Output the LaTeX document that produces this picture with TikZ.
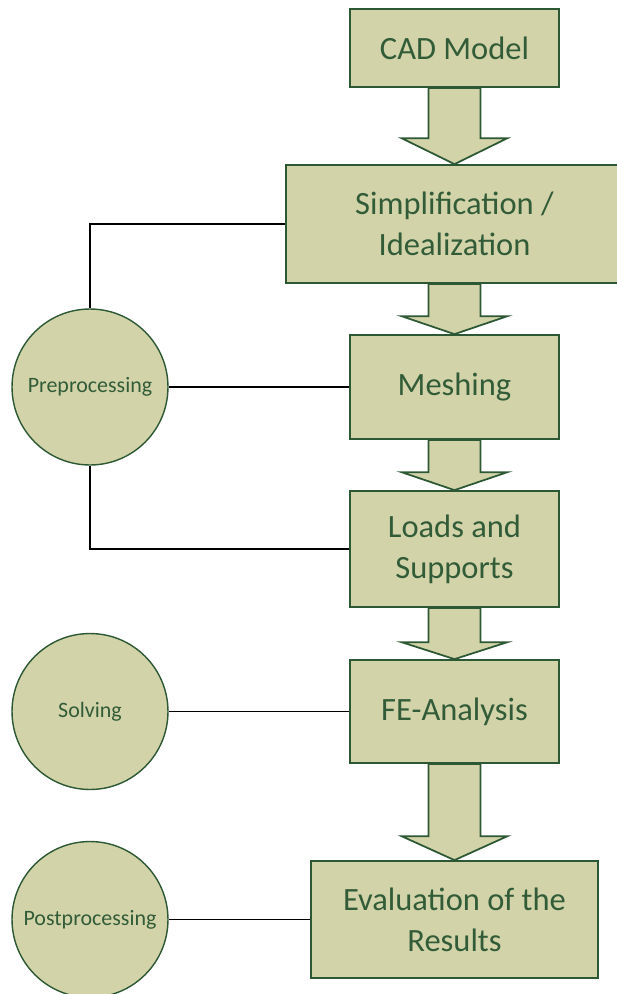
\documentclass[tikz,border=0pt]{standalone}
\usepackage{fontspec}
\setmainfont{Carlito}
\usetikzlibrary{calc}
\definecolor{khaki}{RGB}{210,211,169}
\definecolor{darkolive}{RGB}{44,88,52}
\definecolor{textgreen}{RGB}{50,92,56}

\begin{document}
\begin{tikzpicture}[x=0.02cm, y=-0.02cm, thick,
    main/.style = {draw=darkolive, fill=khaki, line width=1pt, text=textgreen, align=center, inner sep=0pt, font=\fontsize{18.5}{23.5}\selectfont},
    phase/.style = {draw=darkolive, fill=khaki, line width=0.8pt, circle, minimum size=3.12cm, inner sep=0pt, text=textgreen, font=\fontsize{12.5}{15}\selectfont},
    fat/.style = {draw=darkolive, fill=khaki, line width=1pt, line join=miter}]
      \useasboundingbox (0,0) rectangle (617,994);
      \clip (0,0) rectangle (617,994);

      \node[main, minimum width=4.18cm, minimum height=1.56cm] (1) at (454.5,48) {CAD Model};
      \node[main, minimum width=6.74cm, minimum height=2.36cm] (2) at (454.5,224) {Simplification /\\Idealization};
      \node[main, minimum width=4.18cm, minimum height=2.08cm] (3) at (454.5,387) {Meshing};
      \node[main, minimum width=4.18cm, minimum height=2.32cm] (4) at (454.5,549) {Loads and\\Supports};
      \node[main, minimum width=4.18cm, minimum height=2.06cm] (5) at (454.5,711.5) {FE-Analysis};
      \node[main, minimum width=5.74cm, minimum height=2.34cm] (6) at (454.5,919.5) {Evaluation of the\\Results};

      \node[phase] (7) at (90,387) {Preprocessing};
      \node[phase] (8) at (90,711.5) {Solving};
      \node[phase] (9) at (90,919.5) {Postprocessing};

      \draw[line width=0.9pt]
      (7.north) |- (2.west)
      (7.east) -- (3.west)
      (7.south) |- (4.west)
      (8.east) -- (5.west)
      (9.east) -- (6.west);

      % block arrows between the steps
      \foreach \a/\b/\h in {1/2/26, 2/3/18, 3/4/18, 4/5/17, 5/6/24}
        \draw[fat] ($(\a.south)+(-26,0)$) -- ($(\b.north)+(-26,-\h)$) -- ($(\b.north)+(-53,-\h)$) -- (\b.north)
          -- ($(\b.north)+(53,-\h)$) -- ($(\b.north)+(26,-\h)$) -- ($(\a.south)+(26,0)$) -- cycle;
    \end{tikzpicture}
\end{document}
